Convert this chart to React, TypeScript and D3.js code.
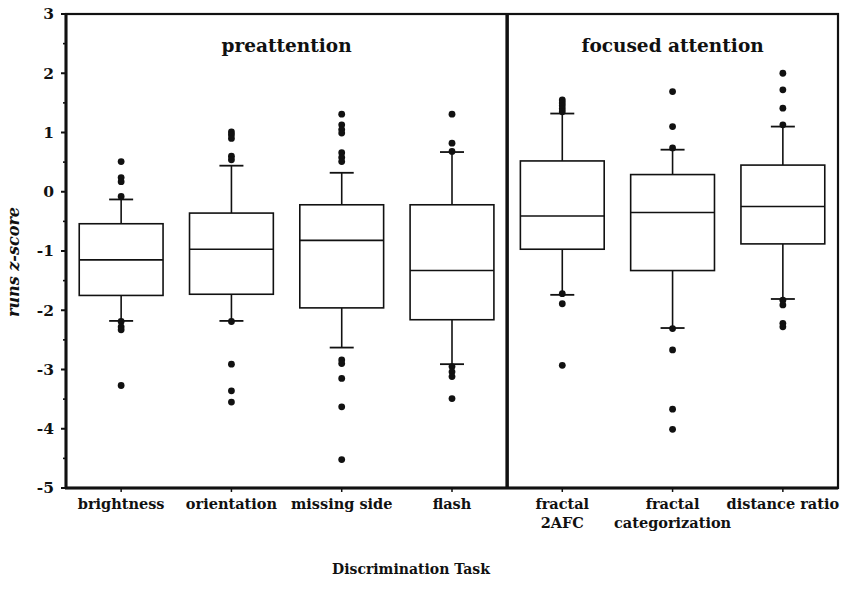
import React from "react";
import * as d3 from "d3";

const categories = ["brightness", "orientation", "missing side", "flash", "fractal\n2AFC", "fractal\ncategorization", "distance ratio"];
const groupTitles = ["preattention", "focused attention"];
const q1 = [-1.75, -1.73, -1.96, -2.16, -0.97, -1.33, -0.88];
const medians = [-1.15, -0.97, -0.82, -1.33, -0.41, -0.35, -0.25];
const q3 = [-0.54, -0.36, -0.22, -0.22, 0.52, 0.29, 0.45];
const whiskerLow = [-2.18, -2.18, -2.63, -2.91, -1.74, -2.30, -1.81];
const whiskerHigh = [-0.13, 0.44, 0.32, 0.67, 1.32, 0.71, 1.10];
const outliers: number[][] = [
  [0.51, 0.24, 0.17, -0.08, -2.19, -2.28, -2.33, -3.27],
  [1.01, 0.96, 0.9, 0.6, 0.54, -2.19, -2.91, -3.36, -3.55],
  [1.31, 1.13, 1.05, 0.99, 0.66, 0.58, 0.51, -2.84, -2.9, -3.15, -3.63, -4.52],
  [1.31, 0.82, 0.68, -2.95, -3.04, -3.12, -3.49],
  [1.55, 1.5, 1.45, 1.4, 1.35, -1.72, -1.89, -2.93],
  [1.69, 1.1, 0.74, -2.31, -2.67, -3.67, -4.01],
  [2.0, 1.72, 1.41, 1.13, -1.83, -1.91, -2.22, -2.28],
];
const yTicks = [3, 2, 1, 0, -1, -2, -3, -4, -5];
const yLabel = "runs z-score";
const xLabel = "Discrimination Task";

const W = 843;
const H = 589;
const left = 66;
const right = 838;
const top = 14;
const bottom = 488;
const serif = "'DejaVu Serif', 'Liberation Serif', serif";

export default function App() {
  const x = d3.scaleBand<number>().domain(d3.range(categories.length)).range([left, right]).paddingInner(0.24).paddingOuter(0.12);
  const band = d3.scaleBand<number>().domain(d3.range(categories.length)).range([left, right]);
  const y = d3.scaleLinear().domain([-5, 3]).range([bottom, top]);
  const minorTicks = d3.range(-4.5, 3, 1);
  const divider = band(4) as number;
  const capHalf = 12;

  return (
    <svg width={W} height={H} style={{ position: "absolute", left: 0, top: 0, background: "#fff" }}>
      {categories.map((c, i) => {
        const x0 = x(i) as number;
        const bw = x.bandwidth();
        const cx = x0 + bw / 2;
        return (
          <g key={i} stroke="#111" fill="none">
            <line x1={cx} x2={cx} y1={y(q3[i])} y2={y(whiskerHigh[i])} strokeWidth={1.6} />
            <line x1={cx} x2={cx} y1={y(q1[i])} y2={y(whiskerLow[i])} strokeWidth={1.6} />
            <line x1={cx - capHalf} x2={cx + capHalf} y1={y(whiskerHigh[i])} y2={y(whiskerHigh[i])} strokeWidth={1.8} />
            <line x1={cx - capHalf} x2={cx + capHalf} y1={y(whiskerLow[i])} y2={y(whiskerLow[i])} strokeWidth={1.8} />
            <rect x={x0} y={y(q3[i])} width={bw} height={y(q1[i]) - y(q3[i])} strokeWidth={1.6} fill="#fff" />
            <line x1={x0} x2={x0 + bw} y1={y(medians[i])} y2={y(medians[i])} strokeWidth={1.6} />
            {outliers[i].map((v, j) => (
              <circle key={j} cx={cx} cy={y(v)} r={3.4} fill="#111" stroke="none" />
            ))}
          </g>
        );
      })}
      <rect x={left} y={top} width={right - left} height={bottom - top} fill="none" stroke="#111" strokeWidth={2.2} />
      <line x1={left} x2={left} y1={top - 1} y2={bottom + 1} stroke="#111" strokeWidth={3} />
      <line x1={left - 1} x2={right} y1={bottom} y2={bottom} stroke="#111" strokeWidth={3} />
      <line x1={divider} x2={divider} y1={top} y2={bottom} stroke="#111" strokeWidth={3.5} />
      {yTicks.map((t) => (
        <g key={t}>
          <line x1={left - 5} x2={left} y1={y(t)} y2={y(t)} stroke="#111" strokeWidth={2} />
          <text x={left - 12} y={y(t)} dy="0.35em" textAnchor="end" fontFamily={serif} fontWeight="bold" fontSize={15.5} fill="#111">
            {t}
          </text>
        </g>
      ))}
      {minorTicks.map((t) => (
        <line key={t} x1={left - 3} x2={left} y1={y(t)} y2={y(t)} stroke="#111" strokeWidth={1.6} />
      ))}
      {categories.map((c, i) => (
        <line key={i} x1={(band(i) as number) + band.bandwidth() / 2} x2={(band(i) as number) + band.bandwidth() / 2} y1={bottom} y2={bottom + 4} stroke="#111" strokeWidth={1.5} />
      ))}
      {categories.map((c, i) => {
        const cx = (band(i) as number) + band.bandwidth() / 2;
        return (
          <text key={i} x={cx} y={509} textAnchor="middle" fontFamily={serif} fontWeight="bold" fontSize={14.5} fill="#111">
            {c.split("\n").map((line, k) => (
              <tspan key={k} x={cx} dy={k === 0 ? 0 : 19}>
                {line}
              </tspan>
            ))}
          </text>
        );
      })}
      <text x={(left + divider) / 2} y={52} textAnchor="middle" fontFamily={serif} fontWeight="bold" fontSize={18.5} fill="#111">
        {groupTitles[0]}
      </text>
      <text x={(divider + right) / 2} y={52} textAnchor="middle" fontFamily={serif} fontWeight="bold" fontSize={18.5} fill="#111">
        {groupTitles[1]}
      </text>
      <text transform={`translate(19, ${262}) rotate(-90)`} textAnchor="middle" fontFamily={serif} fontWeight="bold" fontStyle="italic" fontSize={16} fill="#111">
        {yLabel}
      </text>
      <text x={411} y={574} textAnchor="middle" fontFamily={serif} fontWeight="bold" fontSize={14} fill="#111">
        {xLabel}
      </text>
    </svg>
  );
}
